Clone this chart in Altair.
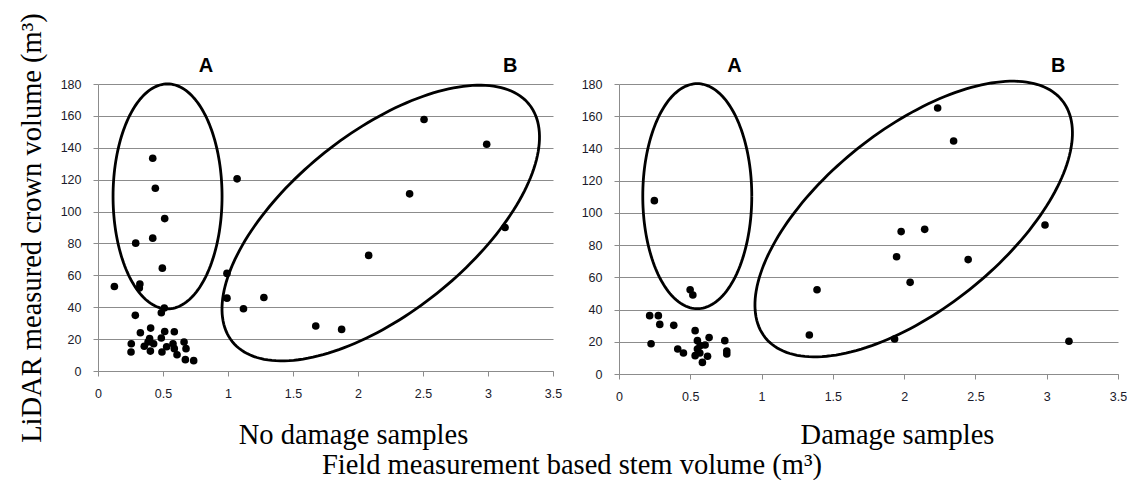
import altair as alt
import pandas as pd
import numpy as np

# ---------------- data ----------------
# No damage samples (left panel)
nd_x = [0.126, 0.421, 0.441, 0.513, 0.290, 0.421, 0.495, 0.318, 0.322, 0.510, 0.487,
        0.287, 0.326, 0.405, 0.513, 0.587, 0.256, 0.254, 0.356, 0.397, 0.403, 0.428,
        0.487, 0.492, 0.528, 0.577, 0.587, 0.608, 0.662, 0.677, 0.672, 0.736, 0.385,
        1.070, 2.508, 2.990, 2.397, 3.131, 2.082, 0.992, 0.992, 1.276, 1.119, 1.675, 1.874]
nd_y = [53.0, 133.4, 114.6, 95.6, 80.2, 83.3, 64.5, 52.0, 54.5, 39.5, 36.5,
        34.9, 24.0, 26.9, 24.8, 24.6, 17.1, 11.9, 15.5, 20.3, 12.5, 17.1,
        20.7, 11.9, 15.2, 17.1, 14.0, 10.2, 18.2, 14.0, 7.1, 6.5, 18.2,
        120.5, 157.7, 142.2, 111.1, 90.0, 72.5, 61.2, 45.7, 46.1, 39.0, 28.2, 26.1]

# Damage samples (right panel)
d_x = [0.248, 0.499, 0.518, 0.215, 0.276, 0.286, 0.384, 0.225, 0.412, 0.452, 0.534,
       0.550, 0.632, 0.604, 0.550, 0.567, 0.534, 0.585, 0.621, 0.742, 0.756, 0.756,
       0.569, 1.389, 1.335, 2.235, 2.347, 1.979, 2.144, 1.947, 2.449, 2.042, 2.988,
       1.933, 3.156]
d_y = [107.6, 52.3, 49.0, 36.2, 36.2, 30.8, 30.2, 18.8, 15.5, 13.0, 26.9,
       20.7, 22.6, 18.0, 15.5, 13.0, 11.4, 7.2, 11.0, 20.7, 14.3, 12.4,
       17.6, 52.3, 24.2, 165.1, 144.6, 88.4, 89.8, 72.8, 71.0, 56.9, 92.5,
       21.7, 20.3]

x_ticks = [0, 0.5, 1, 1.5, 2, 2.5, 3, 3.5]
y_ticks = [0, 20, 40, 60, 80, 100, 120, 140, 160, 180]

group_labels = ["A", "B"]
nd_label_x = [0.83, 3.17]
d_label_x = [0.81, 3.08]
label_y = [191, 191]

# ellipse outlines: centre in data units, semi-axes in screen pixels, tilt in degrees
nd_ell_cx = [0.535, 2.175]
nd_ell_cy = [109.5, 92.8]
d_ell_cx = [0.549, 2.067]
d_ell_cy = [110.4, 96.2]
ell_a = [54.5, 190]
ell_b = [112.5, 90]
ell_tilt = [0, 38.6]

SERIF = "Liberation Serif"
SANS = "Liberation Sans"
GRAY = "#8c8c8c"


def ellipse_frame(cxs, cys, w, h):
    rows = []
    px_x = w / 3.5
    px_y = h / 180.0
    for k, (cx, cy, a, b, tilt) in enumerate(zip(cxs, cys, ell_a, ell_b, ell_tilt)):
        th = np.deg2rad(tilt)
        for i, t in enumerate(np.linspace(0, 2 * np.pi, 181)):
            dx = a * np.cos(th) * np.cos(t) - b * np.sin(th) * np.sin(t)
            dy = a * np.sin(th) * np.cos(t) + b * np.cos(th) * np.sin(t)
            rows.append({"e": k, "i": i, "x": cx + dx / px_x, "y": cy + dy / px_y})
    return pd.DataFrame(rows)


def panel(xs, ys, lab_x, ell_cx, ell_cy, w, h, xtitle, title_x, title_pad, show_y_title):
    pts = pd.DataFrame({"x": xs, "y": ys})
    labs = pd.DataFrame({"x": lab_x, "y": label_y, "t": group_labels})
    ell = ellipse_frame(ell_cx, ell_cy, w, h)

    xenc = alt.X("x:Q",
                 scale=alt.Scale(domain=[0, 3.5], nice=False, zero=False),
                 axis=alt.Axis(values=x_ticks, grid=False, title=xtitle,
                               titleX=title_x, titleAlign="center",
                               titlePadding=title_pad,
                               format="~g", labelFlush=False))
    yaxis_kwargs = dict(values=y_ticks, grid=True, labelFlush=False)
    if show_y_title:
        yaxis_kwargs["title"] = "LiDAR measured crown volume (m³)"
    else:
        yaxis_kwargs["title"] = None
    yenc = alt.Y("y:Q", scale=alt.Scale(domain=[0, 180], nice=False, zero=False),
                 axis=alt.Axis(**yaxis_kwargs))

    dots = alt.Chart(pts).mark_circle(color="black", opacity=1, size=58).encode(x=xenc, y=yenc)
    rings = alt.Chart(ell).mark_line(color="black", strokeWidth=2.8, clip=False).encode(
        x=xenc, y=yenc, detail="e:N", order="i:Q")
    letters = alt.Chart(labs).mark_text(font=SANS, fontSize=20, fontWeight="bold",
                                        color="black", clip=False).encode(
        x=xenc, y=yenc, text="t:N")
    return alt.layer(rings, dots, letters).properties(width=w, height=h)


left = panel(nd_x, nd_y, nd_label_x, nd_ell_cx, nd_ell_cy, 455, 287,
             "No damage samples", 255, 21, True)
right = panel(d_x, d_y, d_label_x, d_ell_cx, d_ell_cy, 499, 290,
              "Damage samples", 18 + 260, 18, False)

chart = alt.hconcat(left, right, spacing=66, bounds="flush").properties(
    padding={"left": 17, "top": 12, "right": 0, "bottom": 0},
    title=alt.TitleParams("Field measurement based stem volume (m³)", orient="bottom",
                          anchor="middle", font=SERIF, fontSize=28.5,
                          fontWeight="normal", color="black", offset=2),
).configure_view(stroke=None).configure_axis(
    domainColor=GRAY, tickColor=GRAY, gridColor=GRAY, gridWidth=1,
    tickSize=5, labelFont=SANS, labelFontSize=12.5, labelColor="#1a1a2a",
    labelPadding=11, titleFont=SERIF, titleFontSize=28.5, titleFontWeight="normal",
    titleColor="black",
).configure_axisY(labelPadding=12, titlePadding=14)

chart.save("out.html", embed_options={"renderer": "svg", "actions": False})
